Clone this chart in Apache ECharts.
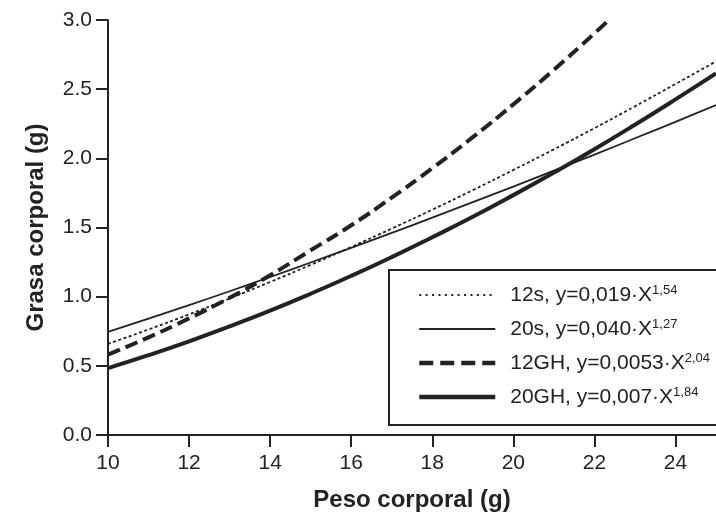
<!DOCTYPE html>
<html>
<head>
<meta charset="utf-8">
<script src="https://cdn.jsdelivr.net/npm/echarts@6/dist/echarts.min.js"></script>
<style>
html,body{margin:0;padding:0;background:#fff;}
#chart{width:716px;height:519px;}
</style>
</head>
<body>
<div id="chart"></div>
<script>
// Values
var xValues = [10, 11, 12, 13, 14, 15, 16, 17, 18, 19, 20, 21, 22, 23, 24, 25];
var s12Values = [0.659, 0.763, 0.872, 0.987, 1.106, 1.230, 1.359, 1.492, 1.629, 1.770, 1.916, 2.065, 2.218, 2.376, 2.537, 2.701];
var s20Values = [0.745, 0.841, 0.939, 1.039, 1.142, 1.247, 1.353, 1.461, 1.571, 1.683, 1.796, 1.911, 2.027, 2.145, 2.264, 2.385];
var gh12X = [10, 11, 12, 13, 14, 15, 16, 17, 18, 19, 20, 21, 22, 22.35];
var gh12Values = [0.581, 0.706, 0.843, 0.992, 1.155, 1.335, 1.516, 1.716, 1.928, 2.153, 2.390, 2.640, 2.903, 2.998];
var gh20Values = [0.484, 0.577, 0.677, 0.785, 0.899, 1.021, 1.150, 1.286, 1.429, 1.577, 1.734, 1.897, 2.066, 2.243, 2.426, 2.614];

var xTicks = [10, 12, 14, 16, 18, 20, 22, 24];
var yTicks = [0, 0.5, 1.0, 1.5, 2.0, 2.5, 3.0];

var seriesNames = ['12s', '20s', '12GH', '20GH'];
var legendMain = {
  '12s': '12s, y=0,019·X',
  '20s': '20s, y=0,040·X',
  '12GH': '12GH, y=0,0053·X',
  '20GH': '20GH, y=0,007·X'
};
var legendExp = { '12s': '1,54', '20s': '1,27', '12GH': '2,04', '20GH': '1,84' };

function pairs(xs, ys) { return xs.map(function (x, i) { return [x, ys[i]]; }); }

var INK = '#222';
var FONT = '"Liberation Sans", Arial, Helvetica, sans-serif';

var lineStyles = {
  '12s': { color: INK, width: 1.8, type: [3, 2.5] },
  '20s': { color: INK, width: 1.8, type: 'solid' },
  '12GH': { color: INK, width: 4, type: [13, 6] },
  '20GH': { color: INK, width: 4, type: 'solid' }
};
var legendLineStyles = {
  '12s': { color: INK, width: 2, type: [2, 4.4] },
  '20s': { color: INK, width: 2.2, type: 'solid' },
  '12GH': { color: INK, width: 4.5, type: [14, 7] },
  '20GH': { color: INK, width: 4.5, type: 'solid' }
};

var chart = echarts.init(document.getElementById('chart'), null, { renderer: 'canvas' });
chart.setOption({
  animation: false,
  backgroundColor: '#fff',
  grid: { left: 108, top: 20, width: 625, height: 415, containLabel: false },
  xAxis: {
    type: 'value', min: 10, max: 25, interval: 2,
    name: 'Peso corporal (g)', nameLocation: 'middle', nameGap: 53,
    nameTextStyle: { fontFamily: FONT, fontSize: 24, fontWeight: 'bold', color: INK },
    axisLine: { show: true, lineStyle: { color: INK, width: 2 } },
    axisTick: { show: true, length: 12, lineStyle: { color: INK, width: 2 }, customValues: xTicks },
    axisLabel: { fontFamily: FONT, fontSize: 21, color: INK, margin: 18, customValues: xTicks },
    splitLine: { show: false }
  },
  yAxis: {
    type: 'value', min: 0, max: 3, interval: 0.5,
    name: 'Grasa corporal (g)', nameLocation: 'middle', nameGap: 60,
    nameTextStyle: { fontFamily: FONT, fontSize: 24, fontWeight: 'bold', color: INK },
    axisLine: { show: true, lineStyle: { color: INK, width: 2 } },
    axisTick: { show: true, length: 12, lineStyle: { color: INK, width: 2 }, customValues: yTicks },
    axisLabel: { fontFamily: FONT, fontSize: 21, color: INK, margin: 16, customValues: yTicks,
      formatter: function (v) { return v.toFixed(1); } },
    splitLine: { show: false }
  },
  graphic: [{
    type: 'rect', left: 388, top: 269, z: 50,
    shape: { width: 360, height: 155 },
    style: { fill: 'rgba(0,0,0,0)', stroke: INK, lineWidth: 2 }
  }],
  legend: {
    show: true, orient: 'vertical', left: 412, top: 279,
    itemWidth: 76, itemHeight: 14, itemGap: 12.5, selectedMode: false,
    data: seriesNames.map(function (n) {
      return { name: n, lineStyle: legendLineStyles[n],
        itemStyle: { color: 'rgba(0,0,0,0)', borderColor: 'rgba(0,0,0,0)', borderWidth: 0, opacity: 0 } };
    }),
    z: 60,
    itemStyle: { color: 'rgba(0,0,0,0)', borderColor: 'rgba(0,0,0,0)', borderWidth: 0, opacity: 0 },
    formatter: function (name) { return '{m|' + legendMain[name] + '}{s|' + legendExp[name] + '}'; },
    textStyle: {
      color: INK, fontFamily: FONT, padding: [0, 0, 0, 10],
      rich: {
        m: { fontFamily: FONT, fontSize: 21, lineHeight: 22, color: INK },
        s: { fontFamily: FONT, fontSize: 13, lineHeight: 13, color: INK, verticalAlign: 'top' }
      }
    }
  },
  series: seriesNames.map(function (n) {
    var d;
    if (n === '12s') d = pairs(xValues, s12Values);
    else if (n === '20s') d = pairs(xValues, s20Values);
    else if (n === '12GH') d = pairs(gh12X, gh12Values);
    else d = pairs(xValues, gh20Values);
    return { name: n, type: 'line', data: d, smooth: true, showSymbol: false, symbol: 'none',
      lineStyle: lineStyles[n], itemStyle: { color: INK } };
  })
});
</script>
</body>
</html>
